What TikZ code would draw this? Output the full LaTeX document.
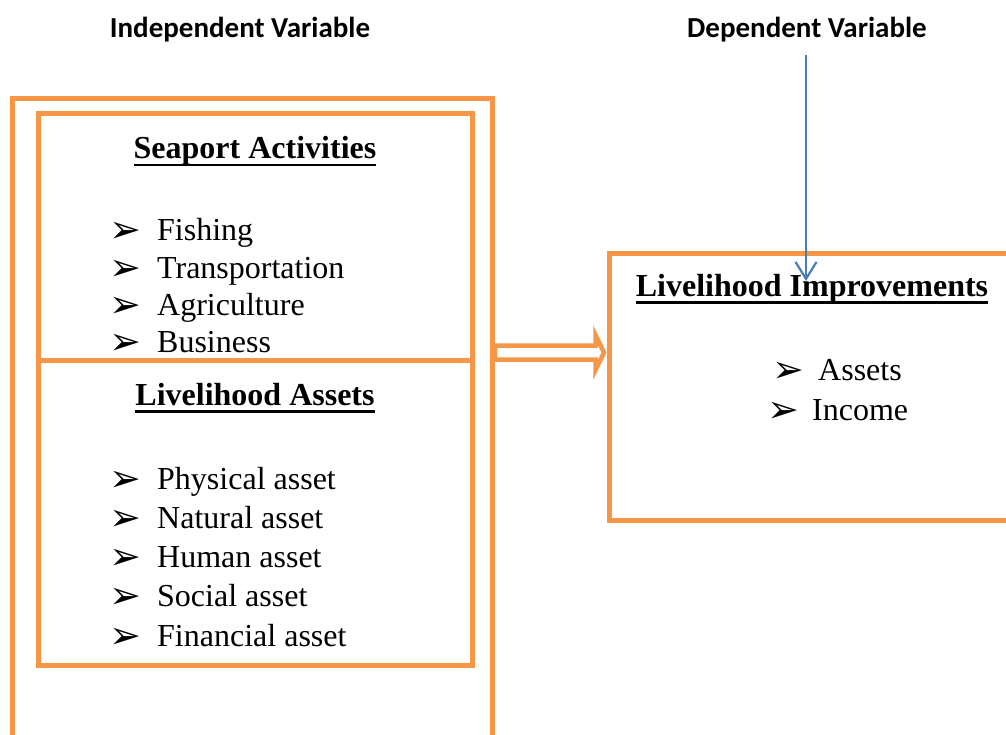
\documentclass[tikz,border=0pt]{standalone}
\usepackage{fontspec}
\setmainfont{Liberation Serif}
\newfontfamily\labelfont{Carlito}
\newfontfamily\bulletfont{DejaVu Sans}
\usetikzlibrary{calc,arrows.meta}
\definecolor{boxorange}{RGB}{247,150,70}
\definecolor{arrowblue}{RGB}{74,126,187}
\newcommand{\headul}[1]{\setbox0\hbox{#1}\rlap{\rule[-7.5pt]{\wd0}{2.6pt}}\box0}
\tikzset{
	box/.style={draw=boxorange, line width=5pt, rectangle, inner sep=0pt},
	heading/.style={anchor=base, inner sep=0pt, font=\fontsize{32}{38}\selectfont\bfseries},
	item/.style={anchor=base west, inner sep=0pt, font=\fontsize{32}{38}\selectfont},
	bul/.style={anchor=base west, inner sep=0pt, font=\bulletfont\fontsize{38}{44}\selectfont},
	varlabel/.style={anchor=base, font=\labelfont\bfseries\fontsize{29}{34}\selectfont},
	hollow/.style={draw=boxorange, line width=4.5pt, fill=white, line join=miter},
}

\begin{document}
\begin{tikzpicture}[x=1pt,y=-1pt]
			%%%%% START %%%%%
			\useasboundingbox (0,0) rectangle (1006,735);
			\clip (0,0) rectangle (1006,735);
			
			\node[varlabel] (iv) at (240,38) {Independent Variable};
			\node[varlabel] (dv) at (807,38) {Dependent Variable};
			
			\node[box, minimum width=480pt, minimum height=661.5pt] (outer) at (252.5,429.25) {};
			\node[box, minimum width=434pt, minimum height=246pt] (seaport) at (255,237) {};
			\node[box, minimum width=434pt, minimum height=305pt] (assets) at (255,512.5) {};
			\node[box, minimum width=431pt, minimum height=266.5pt] (improve) at (824.5,386.75) {};
			
			\node[heading] (sa-head) at (255,159) {\headul{Seaport Activities}};
			\foreach \txt [count=\i] in {Fishing,Transportation,Agriculture,Business}{
				\node[bul] (sa-b\i) at (109,{243+37*(\i-1)}) {➢};
				\node[item] (sa-\i) at (157,{241+37*(\i-1)}) {\txt};
			}
			
			\node[heading] (la-head) at (255,405) {\headul{Livelihood Assets}};
			\foreach \txt [count=\i] in {Physical asset,Natural asset,Human asset,Social asset,Financial asset}{
				\node[bul] (la-b\i) at (109,{491+39.3*(\i-1)}) {➢};
				\node[item] (la-\i) at (157,{489+39.3*(\i-1)}) {\txt};
			}
			
			\node[heading] (li-head) at (812,296) {\headul{Livelihood Improvements}};
			\node[bul] (li-b1) at (772,382) {➢};
			\node[item] (li-1) at (818,380) {Assets};
			\node[bul] (li-b2) at (767,422) {➢};
			\node[item] (li-2) at (812,420) {Income};
			
			% hollow arrow between the boxes
			\coordinate (shaft) at (outer.east |- 0,352.5);
			\coordinate (tip) at (604,352.5);
			\draw[hollow] ($(shaft)+(0,-7)$) -- ($(tip)+(-8.5,-7)$) -- ($(tip)+(-8.5,-17.5)$) -- (tip)
				-- ($(tip)+(-8.5,17.5)$) -- ($(tip)+(-8.5,7)$) -- ($(shaft)+(0,7)$) -- cycle;
			
			% dependent variable arrow
			\coordinate (dvtip) at (806,281);
			\draw[arrowblue, line width=2.2pt, -{Straight Barb[length=17pt,width=21pt]}] ($(dv.south)+(-1,9)$) -- (dvtip);
			%%%%% END %%%%%
\end{tikzpicture}
\end{document}
